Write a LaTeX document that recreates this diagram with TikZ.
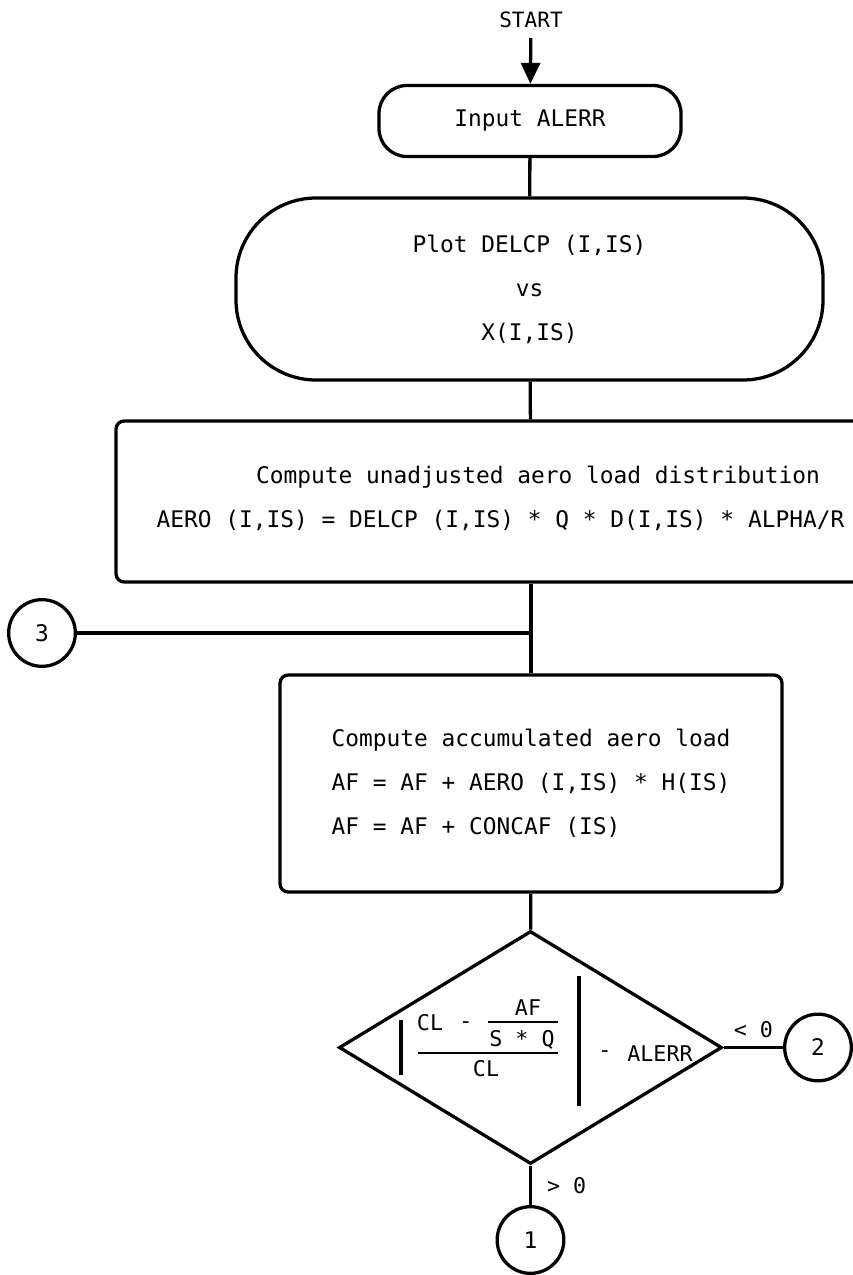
\documentclass[tikz,border=0pt]{standalone}
\usepackage{fontspec}
\setmonofont{DejaVu Sans Mono}
\usetikzlibrary{arrows.meta, shapes.geometric}

\begin{document}
\begin{tikzpicture}[
  font=\ttfamily\fontsize{19.5}{37.5}\selectfont,
  line width=2.8pt,
  term/.style={draw, rectangle, align=center, inner sep=0pt},
  proc/.style={draw, rectangle, rounded corners=7pt, align=left, inner sep=0pt},
  dec/.style={diamond, draw, minimum width=11.49cm, minimum height=6.99cm,
    inner sep=0pt},
  conn/.style={circle, draw, minimum size=2cm, inner sep=0pt},
  small/.style={font=\ttfamily\fontsize{18.5}{21}\selectfont, inner sep=0pt},
  arrow/.style={-{Triangle[length=0.63cm, width=0.57cm]}},
  link/.style={-},
]
  \useasboundingbox (0,0) rectangle (25.56,-38.25);

  \node[inner sep=0pt, outer sep=0.3cm, font=\ttfamily\fontsize{18}{20}\selectfont]
    (start) at (15.93,-0.60) {START};
  \node[term, rounded corners=0.84cm, minimum width=9.06cm, minimum height=2.13cm]
    (input) at (15.90,-3.63) {Input ALERR};
  \node[term, rounded corners=2.4cm, minimum width=17.61cm, minimum height=5.46cm]
    (plot) at (15.885,-8.67) {Plot DELCP (I,IS)\\vs\\X(I,IS)};

  \node[proc, minimum width=24.9cm, minimum height=4.83cm] (box1) at (15.93,-15.045) {};
  \node[inner sep=0pt] (t1) at (16.14,-14.31) {Compute unadjusted aero load distribution};
  \node[inner sep=0pt, anchor=west] (t2) at (4.65,-15.6)
    {AERO (I,IS) = DELCP (I,IS) * Q * D(I,IS) * ALPHA/R};

  \node[conn] (c3) at (1.26,-18.99) {3};
  \coordinate (jn) at (15.93,-18.99);

  \node[proc, minimum width=15.06cm, minimum height=6.51cm] (box2) at (15.93,-23.505)
    {Compute accumulated aero load\\AF = AF + AERO (I,IS) * H(IS)\\AF = AF + CONCAF (IS)};

  \node[dec] (test) at (15.915,-31.425) {};
  \node[small] (num) at (12.9,-30.69) {CL};
  \node[small] (minus1) at (13.98,-30.75) {-};
  \node[small] (af) at (15.84,-30.24) {AF};
  \node[small] (sq) at (15.66,-31.2) {S * Q};
  \node[small] (den) at (14.58,-32.07) {CL};
  \node[small] (minus2) at (18.15,-31.62) {-};
  \node[small] (alerr) at (19.8,-31.62) {ALERR};
  \draw[line width=3.4pt] (12.03,-30.6) -- (12.03,-32.25);
  \draw[line width=3.4pt] (17.37,-29.28) -- (17.37,-33.18);
  \draw[line width=2pt] (12.54,-31.59) -- (16.74,-31.59);
  \draw[line width=2pt] (14.64,-30.66) -- (16.74,-30.66);

  \node[conn] (c2) at (24.54,-31.425) {2};
  \node[conn] (c1) at (15.915,-37.2) {1};

  \draw[arrow] (start) -- (input);
  \draw[link] (input) -- (plot);
  \draw[link] (plot) -- (box1);
  \draw[link] (box1) -- (box2);
  \draw[link] (c3) -- (jn);
  \draw[link] (box2) -- (test);
  \draw[link] (test) -- (c2) node[midway, above=0.25cm, small] {< 0};
  \draw[link] (test) -- (c1) node[midway, right=0.45cm, small] {> 0};
\end{tikzpicture}
\end{document}
